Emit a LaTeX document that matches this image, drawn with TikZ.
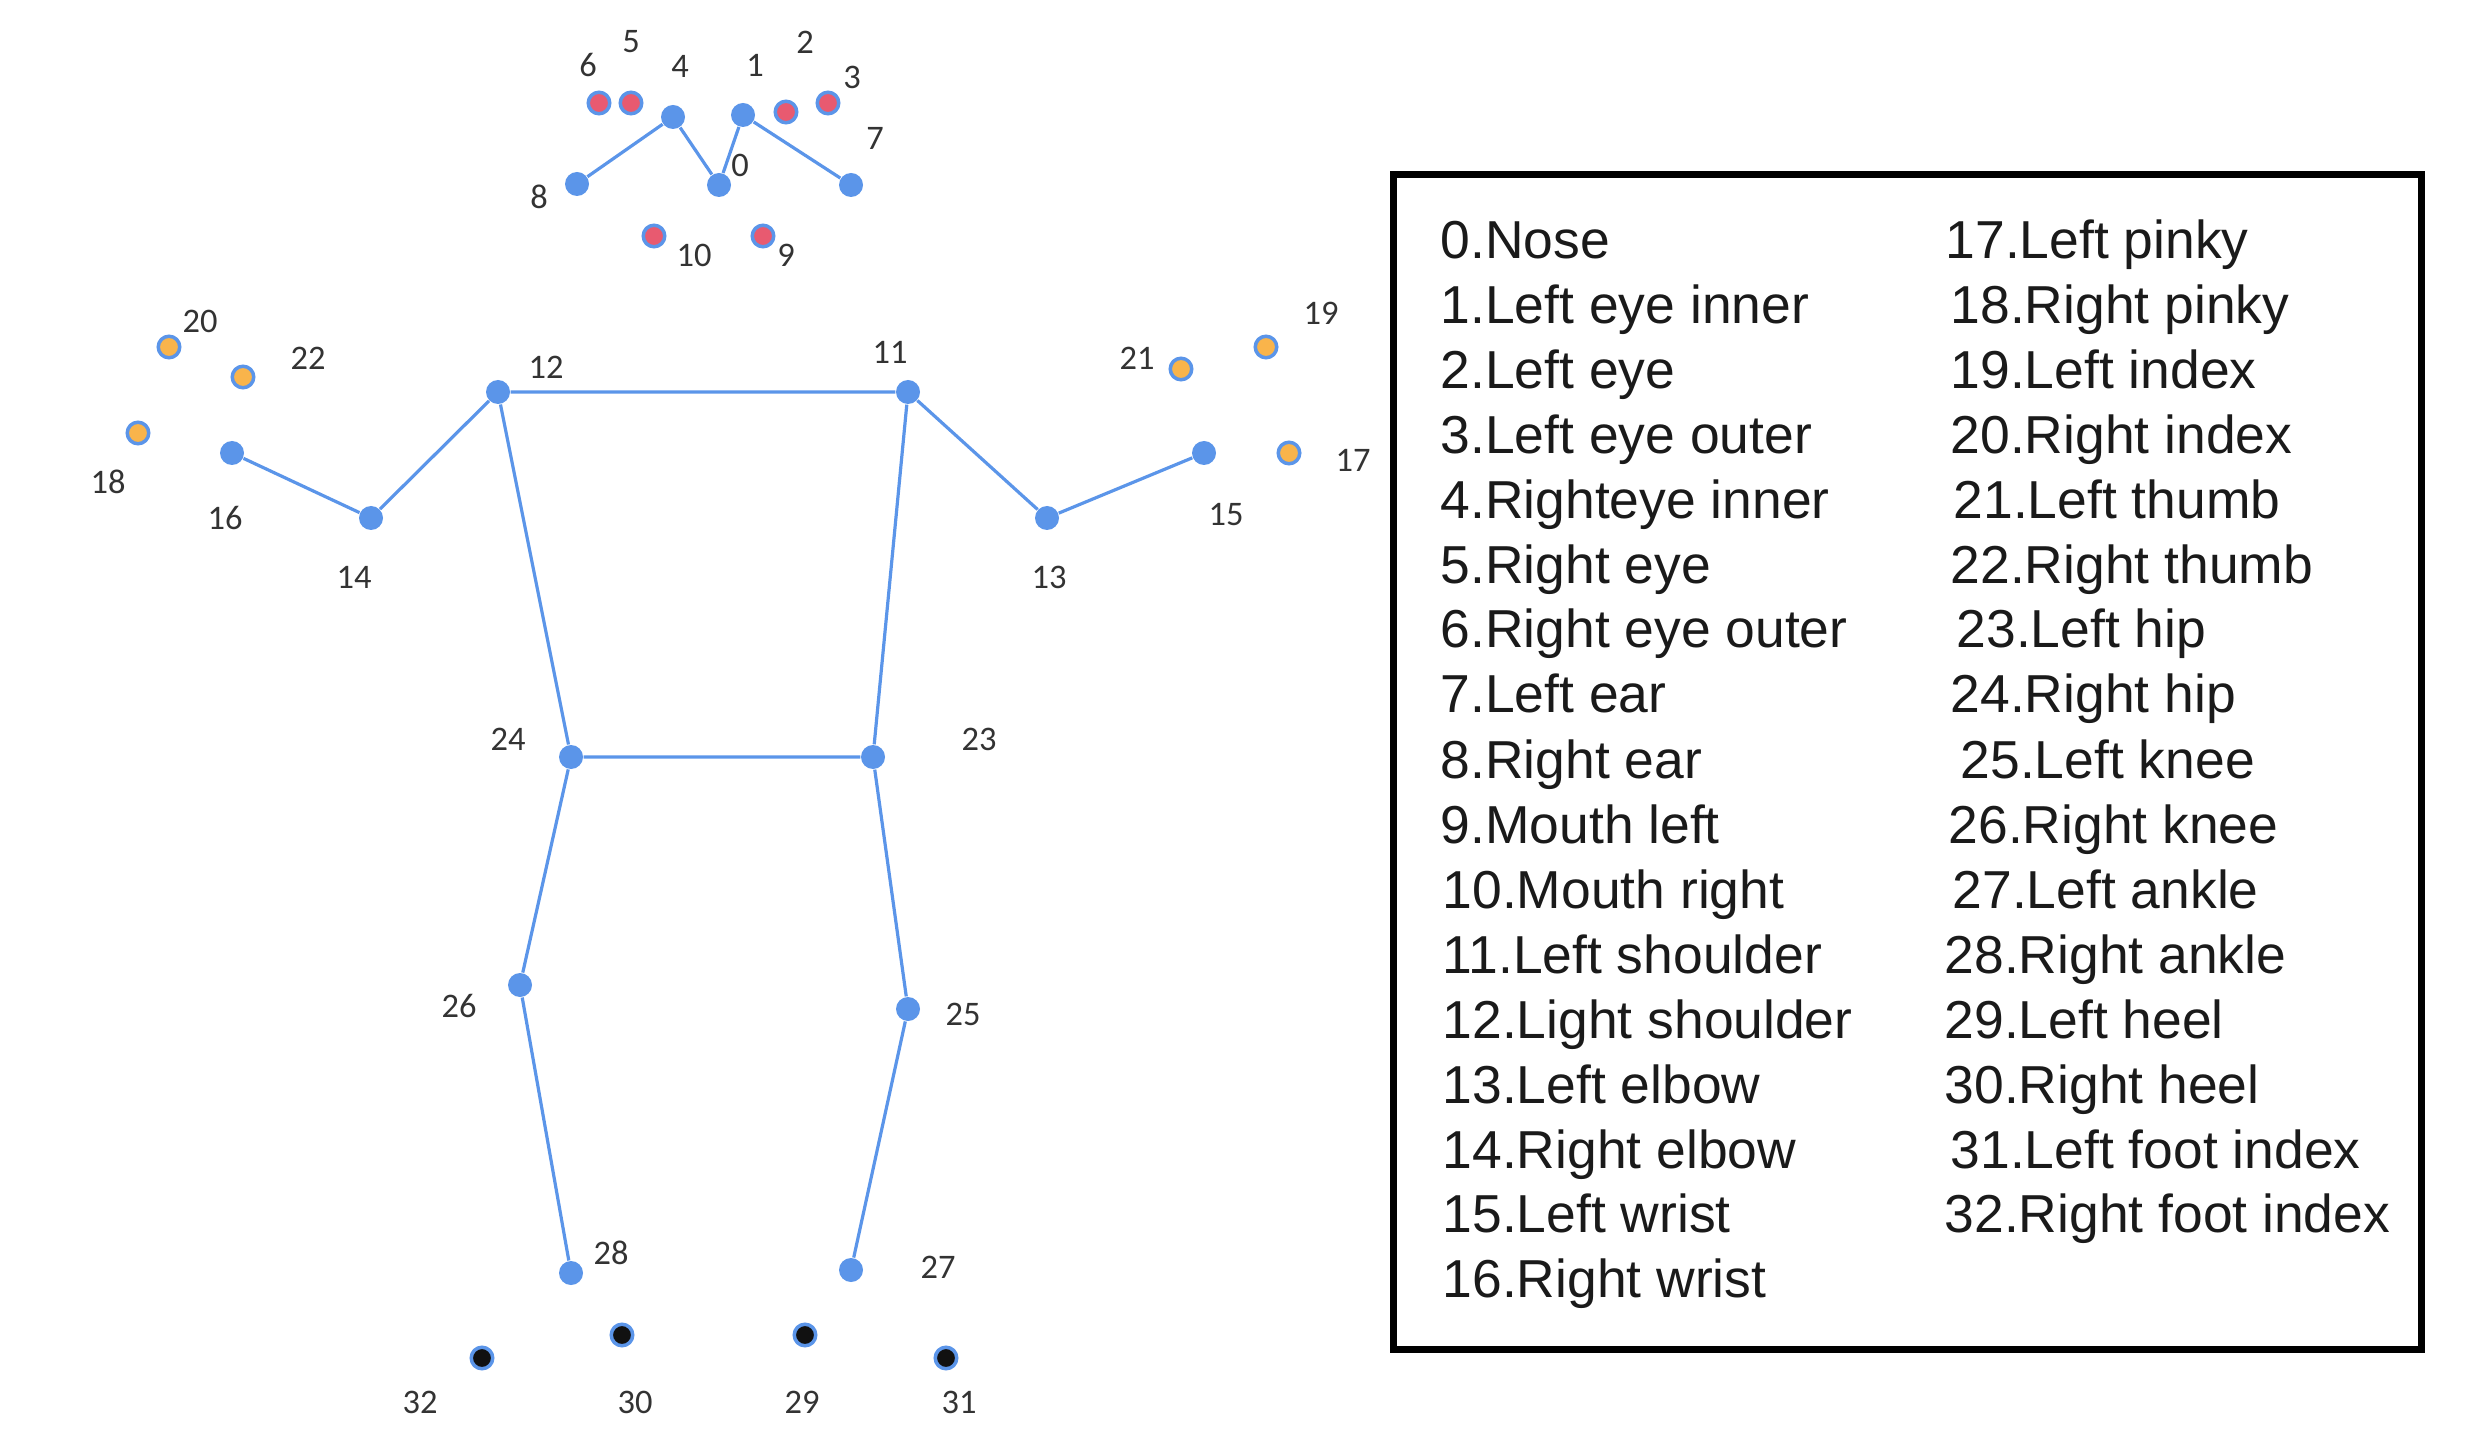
\documentclass[tikz,border=0pt]{standalone}
\usepackage{fontspec}
\setmainfont{Liberation Sans}
\newfontfamily\numfont{Carlito}
\usepackage{tikz}
\usetikzlibrary{positioning}
\usepackage{xcolor}
\definecolor{jointblue}{HTML}{5B95E9}
\definecolor{eyered}{HTML}{E85A70}
\definecolor{handorange}{HTML}{F9B44B}
\definecolor{footblack}{HTML}{111111}
\definecolor{numgray}{HTML}{333333}
\definecolor{textdark}{HTML}{1A1A1A}

\tikzset{
  joint/.style={circle,fill=jointblue,inner sep=0pt,minimum size=0.24cm},
  ringdot/.style={circle,draw=jointblue,line width=0.035cm,inner sep=0pt,minimum size=0.215cm},
  bone/.style={jointblue,line width=0.032cm},
  num/.style={inner sep=0pt,text=numgray,font=\numfont\fontsize{9.8}{10}\selectfont},
  entry/.style={anchor=base west,inner sep=0pt,text=textdark,font=\fontsize{15.2}{16}\selectfont}
}

\begin{document}
\begin{tikzpicture}
  \useasboundingbox (0,0) rectangle (24.88,14.51);
  % head
  \node[joint] (p0) at (7.19,12.66) {};
  \node[joint] (p1) at (7.43,13.36) {};
  \node[ringdot,fill=eyered] (p2) at (7.86,13.39) {};
  \node[ringdot,fill=eyered] (p3) at (8.28,13.48) {};
  \node[joint] (p4) at (6.73,13.34) {};
  \node[ringdot,fill=eyered] (p5) at (6.31,13.48) {};
  \node[ringdot,fill=eyered] (p6) at (5.99,13.48) {};
  \node[joint] (p7) at (8.51,12.66) {};
  \node[joint] (p8) at (5.77,12.67) {};
  \node[ringdot,fill=eyered] (p9) at (7.63,12.15) {};
  \node[ringdot,fill=eyered] (p10) at (6.54,12.15) {};
  % arms and hands
  \node[joint] (p11) at (9.08,10.59) {};
  \node[joint] (p12) at (4.98,10.59) {};
  \node[joint] (p13) at (10.47,9.33) {};
  \node[joint] (p14) at (3.71,9.33) {};
  \node[joint] (p15) at (12.04,9.98) {};
  \node[joint] (p16) at (2.32,9.98) {};
  \node[ringdot,fill=handorange] (p17) at (12.89,9.98) {};
  \node[ringdot,fill=handorange] (p18) at (1.38,10.18) {};
  \node[ringdot,fill=handorange] (p19) at (12.66,11.04) {};
  \node[ringdot,fill=handorange] (p20) at (1.69,11.04) {};
  \node[ringdot,fill=handorange] (p21) at (11.81,10.82) {};
  \node[ringdot,fill=handorange] (p22) at (2.43,10.74) {};
  % hips, legs and feet
  \node[joint] (p23) at (8.73,6.94) {};
  \node[joint] (p24) at (5.71,6.94) {};
  \node[joint] (p25) at (9.08,4.42) {};
  \node[joint] (p26) at (5.20,4.66) {};
  \node[joint] (p27) at (8.51,1.81) {};
  \node[joint] (p28) at (5.71,1.78) {};
  \node[ringdot,fill=footblack] (p29) at (8.05,1.16) {};
  \node[ringdot,fill=footblack] (p30) at (6.22,1.16) {};
  \node[ringdot,fill=footblack] (p31) at (9.46,0.93) {};
  \node[ringdot,fill=footblack] (p32) at (4.82,0.93) {};

  \draw[bone] (p8) -- (p4) -- (p0) -- (p1) -- (p7);
  \draw[bone] (p16) -- (p14) -- (p12) -- (p11) -- (p13) -- (p15);
  \draw[bone] (p12) -- (p24) -- (p23) -- (p11);
  \draw[bone] (p28) -- (p26) -- (p24);
  \draw[bone] (p27) -- (p25) -- (p23);

  % point numbers
  \node[num] (n0) at (7.40,12.86) {0};
  \node[num] (n1) at (7.55,13.86) {1};
  \node[num] (n2) at (8.05,14.09) {2};
  \node[num] (n3) at (8.52,13.74) {3};
  \node[num] (n4) at (6.80,13.85) {4};
  \node[num] (n5) at (6.31,14.09) {5};
  \node[num] (n6) at (5.88,13.86) {6};
  \node[num] (n7) at (8.75,13.13) {7};
  \node[num] (n8) at (5.39,12.54) {8};
  \node[num] (n9) at (7.86,11.96) {9};
  \node[num] (n10) at (6.94,11.96) {10};
  \node[num] (n11) at (8.90,10.99) {11};
  \node[num] (n12) at (5.46,10.84) {12};
  \node[num] (n13) at (10.49,8.74) {13};
  \node[num] (n14) at (3.54,8.74) {14};
  \node[num] (n15) at (12.26,9.36) {15};
  \node[num] (n16) at (2.25,9.33) {16};
  \node[num] (n17) at (13.53,9.91) {17};
  \node[num] (n18) at (1.08,9.69) {18};
  \node[num] (n19) at (13.21,11.38) {19};
  \node[num] (n20) at (2.00,11.30) {20};
  \node[num] (n21) at (11.37,10.93) {21};
  \node[num] (n22) at (3.08,10.93) {22};
  \node[num] (n23) at (9.79,7.12) {23};
  \node[num] (n24) at (5.08,7.12) {24};
  \node[num] (n25) at (9.63,4.37) {25};
  \node[num] (n26) at (4.59,4.45) {26};
  \node[num] (n27) at (9.38,1.84) {27};
  \node[num] (n28) at (6.11,1.98) {28};
  \node[num] (n29) at (8.02,0.49) {29};
  \node[num] (n30) at (6.35,0.49) {30};
  \node[num] (n31) at (9.59,0.49) {31};
  \node[num] (n32) at (4.20,0.49) {32};

  % legend
  \draw[line width=0.07cm] (13.93,1.02) rectangle (24.21,12.76);
  \node[entry] (e0) at (14.40,11.92) {0.Nose};
  \node[entry] (e1) at (14.40,11.27) {1.Left eye inner};
  \node[entry] (e2) at (14.40,10.62) {2.Left eye};
  \node[entry] (e3) at (14.40,9.97) {3.Left eye outer};
  \node[entry] (e4) at (14.40,9.32) {4.Righteye inner};
  \node[entry] (e5) at (14.40,8.68) {5.Right eye};
  \node[entry] (e6) at (14.40,8.03) {6.Right eye outer};
  \node[entry] (e7) at (14.40,7.38) {7.Left ear};
  \node[entry] (e8) at (14.40,6.73) {8.Right ear};
  \node[entry] (e9) at (14.40,6.08) {9.Mouth left};
  \node[entry] (e10) at (14.42,5.43) {10.Mouth right};
  \node[entry] (e11) at (14.42,4.78) {11.Left shoulder};
  \node[entry] (e12) at (14.42,4.13) {12.Light shoulder};
  \node[entry] (e13) at (14.42,3.48) {13.Left elbow};
  \node[entry] (e14) at (14.42,2.83) {14.Right elbow};
  \node[entry] (e15) at (14.42,2.19) {15.Left wrist};
  \node[entry] (e16) at (14.42,1.54) {16.Right wrist};
  \node[entry] (e17) at (19.45,11.92) {17.Left pinky};
  \node[entry] (e18) at (19.50,11.27) {18.Right pinky};
  \node[entry] (e19) at (19.50,10.62) {19.Left index};
  \node[entry] (e20) at (19.50,9.97) {20.Right index};
  \node[entry] (e21) at (19.53,9.32) {21.Left thumb};
  \node[entry] (e22) at (19.50,8.68) {22.Right thumb};
  \node[entry] (e23) at (19.56,8.03) {23.Left hip};
  \node[entry] (e24) at (19.50,7.38) {24.Right hip};
  \node[entry] (e25) at (19.60,6.73) {25.Left knee};
  \node[entry] (e26) at (19.48,6.08) {26.Right knee};
  \node[entry] (e27) at (19.52,5.43) {27.Left ankle};
  \node[entry] (e28) at (19.44,4.78) {28.Right ankle};
  \node[entry] (e29) at (19.44,4.13) {29.Left heel};
  \node[entry] (e30) at (19.44,3.48) {30.Right heel};
  \node[entry] (e31) at (19.50,2.83) {31.Left foot index};
  \node[entry] (e32) at (19.44,2.19) {32.Right foot index};
\end{tikzpicture}
\end{document}
